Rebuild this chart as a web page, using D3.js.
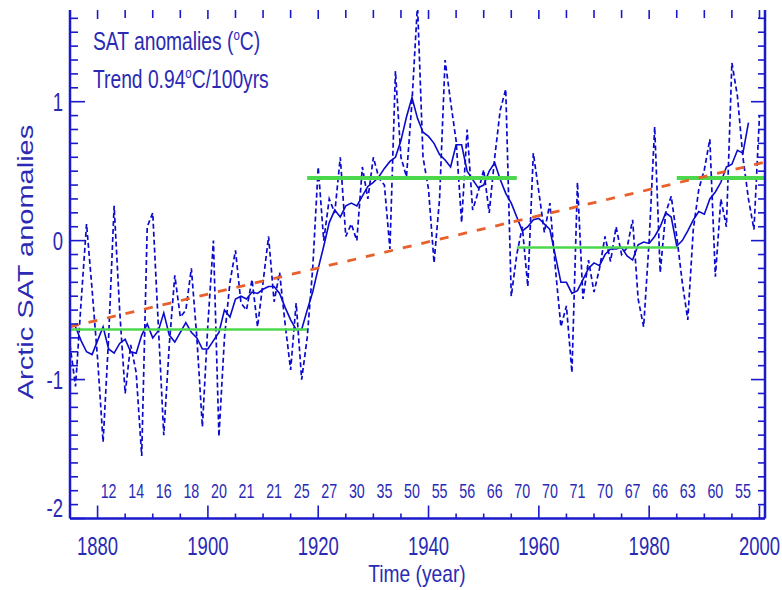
<!DOCTYPE html>
<html><head><meta charset="utf-8">
<script src="https://cdn.jsdelivr.net/npm/d3@7"></script>
<style>body{margin:0;background:#fff}</style>
</head><body>
<svg id="c" width="782" height="590"></svg>
<script>
// ---------- data ----------
const annualStart = 1875;
const annual = [
  -0.75, -1.05, -0.45, 0.12, -0.35, -0.85, -1.45, -0.7, 0.25, -0.5,
  -1.1, -0.75, -0.95, -1.55, 0.1, 0.2, -0.6, -1.4, -0.75, -0.25,
  -0.55, -0.5, -0.2, -0.7, -1.34, -0.6, 0.0, -1.41, -0.7, -0.3,
  -0.07, -0.45, -0.5, -0.28, -0.62, -0.3, 0.03, -0.44, -0.23, -0.6,
  -0.93, -0.45, -1.0, -0.7, -0.2, 0.53, 0.0, 0.3, 0.2, 0.6,
  0.03, 0.12, 0.0, 0.53, 0.3, 0.6, 0.45, 0.4, -0.06, 1.22,
  0.6, 0.46, 1.0, 1.7, 0.6, 0.37, -0.16, 0.3, 1.3, 1.0,
  0.72, 0.13, 0.8, 0.22, 0.35, 0.51, 0.2, 0.6, 0.94, 1.09,
  -0.4, -0.1, 0.1, -0.33, 0.63, 0.35, 0.06, 0.27, -0.2, -0.62,
  -0.47, -0.95, 0.42, -0.42, -0.14, -0.37, -0.2, 0.03, -0.15, 0.1,
  -0.1, -0.05, 0.15, -0.42, -0.62, 0.0, 0.82, -0.23, 0.2, 0.32,
  0.03, -0.3, -0.57, 0.08, 0.37, 0.51, 0.73, -0.26, 0.3, 0.1,
  1.28, 1.04, 0.6, 0.3, 0.08, 0.9
];
const smoothStart = 1876;
const smooth = [
  -0.62, -0.72, -0.8, -0.82, -0.72, -0.62, -0.78, -0.81, -0.74, -0.71,
  -0.8, -0.81, -0.68, -0.6, -0.7, -0.65, -0.52, -0.68, -0.73, -0.66,
  -0.59, -0.66, -0.7, -0.78, -0.78, -0.72, -0.66, -0.5, -0.55, -0.42,
  -0.4, -0.42, -0.37, -0.38, -0.35, -0.33, -0.33, -0.38, -0.48, -0.57,
  -0.64, -0.64, -0.5, -0.37, -0.2, -0.04, 0.13, 0.22, 0.17, 0.25,
  0.27, 0.25, 0.32, 0.39, 0.42, 0.46, 0.52, 0.57, 0.6, 0.72,
  0.89, 1.03, 0.88, 0.78, 0.75, 0.7, 0.62, 0.58, 0.53, 0.69,
  0.69, 0.5, 0.44, 0.38, 0.4, 0.5, 0.56, 0.44, 0.34, 0.27,
  0.17, 0.07, 0.1, 0.15, 0.16, 0.12, 0.08, -0.11, -0.3, -0.3,
  -0.38, -0.36, -0.28, -0.2, -0.16, -0.18, -0.1, -0.06, -0.06, -0.05,
  -0.11, -0.14, -0.03, -0.01, -0.02, 0.03, 0.1, 0.2, 0.17, -0.04,
  0.0, 0.07, 0.15, 0.21, 0.19, 0.3, 0.35, 0.42, 0.53, 0.55,
  0.65, 0.63, 0.85
];
const periodStart = [1875, 1918, 1956, 1985];
const periodEnd   = [1918, 1956, 1985, 2001];
const periodMean  = [-0.64, 0.45, -0.05, 0.45];
const trendYears  = [1875, 2001];
const trendValues = [-0.62, 0.565];
const countYears  = [1882,1887,1892,1897,1902,1907,1912,1917,1922,1927,1932,1937,
                     1942,1947,1952,1957,1962,1967,1972,1977,1982,1987,1992,1997];
const countLabels = ["12","14","16","18","20","21","21","25","27","30","35","50",
                     "55","56","66","70","70","71","70","67","66","63","60","55"];
const xTickLabels = [1880, 1900, 1920, 1940, 1960, 1980, 2000];
const yTickLabels = [-2, -1, 0, 1];

// ---------- layout ----------
const L = 70, R = 765, T = 10, B = 518.5;
const axisColor = "#1a1acc", textColor = "#2a2ab4", dataColor = "#0a0acc";
const font = "'Liberation Sans', Arial, sans-serif";

const svg = d3.select("#c");
const x = d3.scaleLinear().domain([1875, 2001]).range([L, R]);
const y = d3.scaleLinear().domain([-2, 1.66]).range([B, T]);

svg.append("defs").append("clipPath").attr("id", "clip")
  .append("rect").attr("x", L).attr("y", T).attr("width", R - L).attr("height", B - T);

const plot = svg.append("g").attr("clip-path", "url(#clip)");

const line = d3.line().x(d => x(d[0])).y(d => y(d[1]));
const annualPts = annual.map((v, i) => [annualStart + i, v]);
const smoothPts = smooth.map((v, i) => [smoothStart + i, v]);

plot.append("path").attr("d", line(annualPts)).attr("fill", "none")
  .attr("stroke", dataColor).attr("stroke-width", 1.7).attr("stroke-dasharray", "5,3");
plot.append("path").attr("d", line(smoothPts)).attr("fill", "none")
  .attr("stroke", dataColor).attr("stroke-width", 1.6);

// period means
periodMean.forEach((m, i) => {
  plot.append("line")
    .attr("x1", x(periodStart[i])).attr("x2", x(periodEnd[i]))
    .attr("y1", y(m)).attr("y2", y(m))
    .attr("stroke", "#4cd84c").attr("stroke-width", i % 2 ? 4 : 2.5);
});

// trend
plot.append("path").attr("d", line(trendYears.map((t, i) => [t, trendValues[i]])))
  .attr("fill", "none").attr("stroke", "#e8602c").attr("stroke-width", 2.8)
  .attr("stroke-dasharray", "9,10");

// ---------- axes ----------
const ax = svg.append("g").attr("stroke", axisColor);
ax.append("line").attr("x1", L).attr("x2", L).attr("y1", T).attr("y2", B).attr("stroke-width", 2.5);
ax.append("line").attr("x1", R).attr("x2", R).attr("y1", T).attr("y2", B).attr("stroke-width", 2.5);
ax.append("line").attr("x1", L).attr("x2", R).attr("y1", B).attr("y2", B).attr("stroke-width", 2.5);

const xTicks = d3.range(1880, 2001, 5);
xTicks.forEach(t => {
  const major = t % 20 === 0;
  ax.append("line").attr("x1", x(t)).attr("x2", x(t))
    .attr("y1", B).attr("y2", B - (major ? 13 : 5)).attr("stroke-width", 1.6);
  ax.append("line").attr("x1", x(t)).attr("x2", x(t))
    .attr("y1", T).attr("y2", T + (major ? 9 : 8)).attr("stroke-width", 1.6);
});
const yTicks = d3.range(-20, 17).map(d => d / 10);
yTicks.forEach(v => {
  const major = Math.abs(v - Math.round(v)) < 1e-9;
  ax.append("line").attr("x1", L).attr("x2", L + (major ? 15 : 8))
    .attr("y1", y(v)).attr("y2", y(v)).attr("stroke-width", 1.6);
  ax.append("line").attr("x1", R).attr("x2", R - (major ? 14 : 7))
    .attr("y1", y(v)).attr("y2", y(v)).attr("stroke-width", 1.6);
});

// ---------- text ----------
const tg = svg.append("g").attr("fill", textColor).attr("font-family", font);
function label(txt, cx, cy, size, k, anchor) {
  return tg.append("text")
    .attr("transform", `translate(${cx},${cy}) scale(${k},1)`)
    .attr("text-anchor", anchor).attr("font-size", size).text(txt);
}
xTickLabels.forEach(t => label(String(t), x(t), 555, 25, 0.74, "middle"));
yTickLabels.forEach(v => label(String(v), 63, y(v) + 9 - (v === -2 ? 11 : 0), 25, 0.74, "end"));
countLabels.forEach((c, i) => label(c, x(countYears[i]), 498, 21, 0.68, "middle"));

// legend text
const t1 = tg.append("text").attr("transform", "translate(93,50) scale(0.77,1)").attr("font-size", 25);
t1.append("tspan").text("SAT anomalies (");
t1.append("tspan").attr("font-size", 15).attr("dy", -10).text("o");
t1.append("tspan").attr("dy", 10).text("C)");
const t2 = tg.append("text").attr("transform", "translate(93,88) scale(0.77,1)").attr("font-size", 25);
t2.append("tspan").text("Trend 0.94");
t2.append("tspan").attr("font-size", 15).attr("dy", -10).text("o");
t2.append("tspan").attr("dy", 10).text("C/100yrs");

label("Time (year)", 417, 582, 24, 0.8, "middle");
tg.append("text").attr("transform", "translate(33,262) scale(0.75,1) rotate(-90)")
  .attr("text-anchor", "middle").attr("font-size", 29).text("Arctic SAT anomalies");
</script>
</body></html>
